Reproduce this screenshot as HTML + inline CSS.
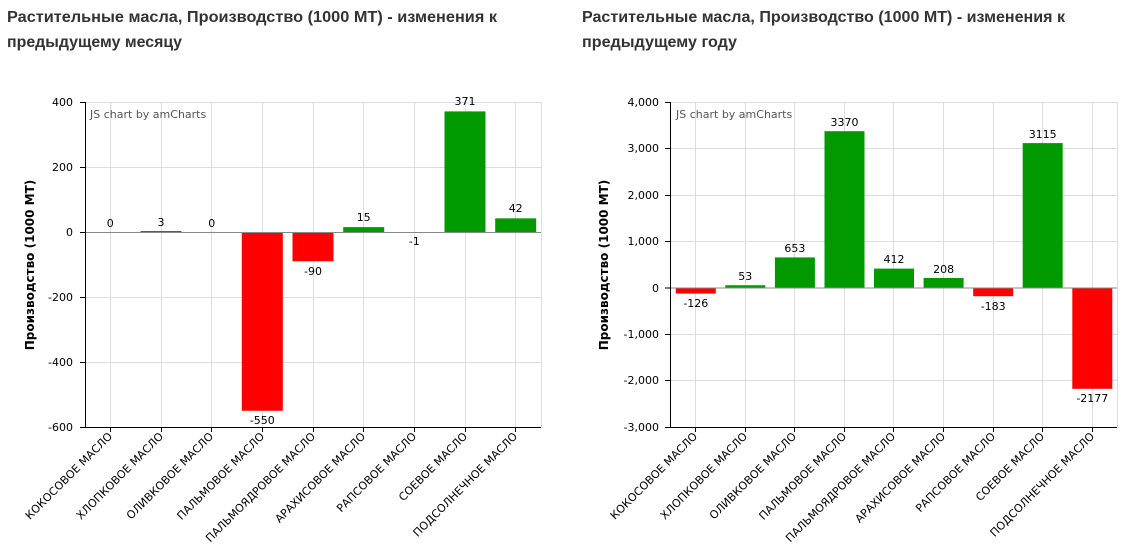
<!DOCTYPE html>
<html><head><meta charset="utf-8"><style>
body{margin:0;background:#fff;}
svg{display:block;font-family:"DejaVu Sans",sans-serif;}
</style></head><body>
<svg width="1129" height="555" viewBox="0 0 1129 555">
<g font-weight="bold" font-size="16" fill="#333" font-family="Liberation Sans, sans-serif">
<text x="7" y="22" textLength="490" lengthAdjust="spacingAndGlyphs">Растительные масла, Производство (1000 MT) - изменения к</text>
<text x="7" y="47" textLength="175" lengthAdjust="spacingAndGlyphs">предыдущему месяцу</text>
<text x="582" y="22" textLength="483" lengthAdjust="spacingAndGlyphs">Растительные масла, Производство (1000 MT) - изменения к</text>
<text x="582" y="47" textLength="155" lengthAdjust="spacingAndGlyphs">предыдущему году</text>
</g>

<!-- LEFT CHART -->
<g stroke="#ddd" stroke-width="1">
<line x1="85" y1="102.5" x2="541" y2="102.5"/><line x1="85" y1="167.5" x2="541" y2="167.5"/>
<line x1="85" y1="297.5" x2="541" y2="297.5"/><line x1="85" y1="362.5" x2="541" y2="362.5"/>
<line x1="110.5" y1="102" x2="110.5" y2="427"/><line x1="161.5" y1="102" x2="161.5" y2="427"/>
<line x1="211.5" y1="102" x2="211.5" y2="427"/><line x1="262.5" y1="102" x2="262.5" y2="427"/>
<line x1="313.5" y1="102" x2="313.5" y2="427"/><line x1="363.5" y1="102" x2="363.5" y2="427"/>
<line x1="414.5" y1="102" x2="414.5" y2="427"/><line x1="465.5" y1="102" x2="465.5" y2="427"/>
<line x1="515.5" y1="102" x2="515.5" y2="427"/><line x1="541.5" y1="102" x2="541.5" y2="427"/>
</g>
<g fill="#009900">
<rect x="140.5" y="231" width="41" height="1"/>
<rect x="343.2" y="227.1" width="41" height="4.9"/>
<rect x="444.5" y="111.4" width="41" height="120.6"/>
<rect x="495.2" y="218.35" width="41" height="13.65"/>
</g>
<g fill="#ff0000">
<rect x="241.8" y="232" width="41" height="178.75"/>
<rect x="292.5" y="232" width="41" height="29.25"/>
<rect x="393.8" y="232" width="41" height="0.5"/>
</g>
<line x1="85" y1="232.5" x2="541" y2="232.5" stroke="#888"/>
<line x1="85.5" y1="102" x2="85.5" y2="427" stroke="#000"/>
<line x1="80" y1="427.5" x2="541" y2="427.5" stroke="#000"/>
<g stroke="#000">
<line x1="80" y1="102.5" x2="85" y2="102.5"/><line x1="80" y1="167.5" x2="85" y2="167.5"/>
<line x1="80" y1="232.5" x2="85" y2="232.5"/><line x1="80" y1="297.5" x2="85" y2="297.5"/>
<line x1="80" y1="362.5" x2="85" y2="362.5"/>
<line x1="110.5" y1="427" x2="110.5" y2="432"/><line x1="161.5" y1="427" x2="161.5" y2="432"/>
<line x1="211.5" y1="427" x2="211.5" y2="432"/><line x1="262.5" y1="427" x2="262.5" y2="432"/>
<line x1="313.5" y1="427" x2="313.5" y2="432"/><line x1="363.5" y1="427" x2="363.5" y2="432"/>
<line x1="414.5" y1="427" x2="414.5" y2="432"/><line x1="465.5" y1="427" x2="465.5" y2="432"/>
<line x1="515.5" y1="427" x2="515.5" y2="432"/>
</g>
<g font-size="11" fill="#000" text-anchor="end">
<text x="73" y="106">400</text><text x="73" y="171">200</text><text x="73" y="236">0</text>
<text x="73" y="301">-200</text><text x="73" y="366">-400</text><text x="73" y="431">-600</text>
</g>
<text x="90" y="118" font-size="11" fill="#555">JS chart by amCharts</text>
<g font-size="11" fill="#000" text-anchor="middle">
<text x="110.3" y="227">0</text><text x="161" y="226">3</text><text x="211.7" y="227">0</text>
<text x="262.3" y="424">-550</text><text x="313" y="275">-90</text><text x="363.7" y="221">15</text>
<text x="414.3" y="245">-1</text><text x="465" y="105">371</text><text x="515.7" y="212">42</text>
</g>
<text transform="translate(34,265) rotate(-90)" font-size="12" font-weight="bold" text-anchor="middle">Производство (1000 MT)</text>
<g font-size="11" fill="#000" text-anchor="end">
<text transform="translate(113,437) rotate(-45)">КОКОСОВОЕ МАСЛО</text>
<text transform="translate(164,437) rotate(-45)">ХЛОПКОВОЕ МАСЛО</text>
<text transform="translate(214,437) rotate(-45)">ОЛИВКОВОЕ МАСЛО</text>
<text transform="translate(265,437) rotate(-45)">ПАЛЬМОВОЕ МАСЛО</text>
<text transform="translate(316,437) rotate(-45)">ПАЛЬМОЯДРОВОЕ МАСЛО</text>
<text transform="translate(366,437) rotate(-45)">АРАХИСОВОЕ МАСЛО</text>
<text transform="translate(417,437) rotate(-45)">РАПСОВОЕ МАСЛО</text>
<text transform="translate(468,437) rotate(-45)">СОЕВОЕ МАСЛО</text>
<text transform="translate(518,437) rotate(-45)">ПОДСОЛНЕЧНОЕ МАСЛО</text>
</g>

<!-- RIGHT CHART -->
<g stroke="#ddd" stroke-width="1">
<line x1="671" y1="102.5" x2="1117" y2="102.5"/><line x1="671" y1="148.5" x2="1117" y2="148.5"/>
<line x1="671" y1="195.5" x2="1117" y2="195.5"/><line x1="671" y1="241.5" x2="1117" y2="241.5"/>
<line x1="671" y1="334.5" x2="1117" y2="334.5"/><line x1="671" y1="380.5" x2="1117" y2="380.5"/>
<line x1="695.5" y1="102" x2="695.5" y2="427"/><line x1="745.5" y1="102" x2="745.5" y2="427"/>
<line x1="794.5" y1="102" x2="794.5" y2="427"/><line x1="844.5" y1="102" x2="844.5" y2="427"/>
<line x1="893.5" y1="102" x2="893.5" y2="427"/><line x1="943.5" y1="102" x2="943.5" y2="427"/>
<line x1="993.5" y1="102" x2="993.5" y2="427"/><line x1="1042.5" y1="102" x2="1042.5" y2="427"/>
<line x1="1092.5" y1="102" x2="1092.5" y2="427"/><line x1="1117.5" y1="102" x2="1117.5" y2="427"/>
</g>
<g fill="#009900">
<rect x="725.3" y="285.24" width="40" height="2.46"/>
<rect x="774.9" y="257.4" width="40" height="30.3"/>
<rect x="824.5" y="131.2" width="40" height="156.5"/>
<rect x="874" y="268.6" width="40" height="19.1"/>
<rect x="923.6" y="278" width="40" height="9.7"/>
<rect x="1022.7" y="143.1" width="40" height="144.6"/>
</g>
<g fill="#ff0000">
<rect x="675.8" y="287.7" width="40" height="5.85"/>
<rect x="973.2" y="287.7" width="40" height="8.5"/>
<rect x="1072.3" y="287.7" width="40" height="101.1"/>
</g>
<line x1="671" y1="288" x2="1117" y2="288" stroke="#888"/>
<line x1="670.5" y1="102" x2="670.5" y2="427" stroke="#000"/>
<line x1="665" y1="427.5" x2="1117" y2="427.5" stroke="#000"/>
<g stroke="#000">
<line x1="665" y1="102.5" x2="670" y2="102.5"/><line x1="665" y1="148.5" x2="670" y2="148.5"/>
<line x1="665" y1="195.5" x2="670" y2="195.5"/><line x1="665" y1="241.5" x2="670" y2="241.5"/>
<line x1="665" y1="288" x2="670" y2="288"/><line x1="665" y1="334.5" x2="670" y2="334.5"/>
<line x1="665" y1="380.5" x2="670" y2="380.5"/>
<line x1="695.5" y1="427" x2="695.5" y2="432"/><line x1="745.5" y1="427" x2="745.5" y2="432"/>
<line x1="794.5" y1="427" x2="794.5" y2="432"/><line x1="844.5" y1="427" x2="844.5" y2="432"/>
<line x1="893.5" y1="427" x2="893.5" y2="432"/><line x1="943.5" y1="427" x2="943.5" y2="432"/>
<line x1="993.5" y1="427" x2="993.5" y2="432"/><line x1="1042.5" y1="427" x2="1042.5" y2="432"/>
<line x1="1092.5" y1="427" x2="1092.5" y2="432"/>
</g>
<g font-size="11" fill="#000" text-anchor="end">
<text x="659" y="106">4,000</text><text x="659" y="152">3,000</text><text x="659" y="199">2,000</text>
<text x="659" y="245">1,000</text><text x="659" y="292">0</text><text x="659" y="338">-1,000</text>
<text x="659" y="384">-2,000</text><text x="659" y="431">-3,000</text>
</g>
<text x="676" y="118" font-size="11" fill="#555">JS chart by amCharts</text>
<g font-size="11" fill="#000" text-anchor="middle">
<text x="695.8" y="307">-126</text><text x="745.3" y="280">53</text><text x="794.9" y="252">653</text>
<text x="844.5" y="126">3370</text><text x="894" y="263">412</text><text x="943.6" y="273">208</text>
<text x="993.2" y="310">-183</text><text x="1042.7" y="138">3115</text><text x="1092.3" y="402">-2177</text>
</g>
<text transform="translate(608,265) rotate(-90)" font-size="12" font-weight="bold" text-anchor="middle">Производство (1000 MT)</text>
<g font-size="11" fill="#000" text-anchor="end">
<text transform="translate(698,437) rotate(-45)">КОКОСОВОЕ МАСЛО</text>
<text transform="translate(748,437) rotate(-45)">ХЛОПКОВОЕ МАСЛО</text>
<text transform="translate(797,437) rotate(-45)">ОЛИВКОВОЕ МАСЛО</text>
<text transform="translate(847,437) rotate(-45)">ПАЛЬМОВОЕ МАСЛО</text>
<text transform="translate(896,437) rotate(-45)">ПАЛЬМОЯДРОВОЕ МАСЛО</text>
<text transform="translate(946,437) rotate(-45)">АРАХИСОВОЕ МАСЛО</text>
<text transform="translate(996,437) rotate(-45)">РАПСОВОЕ МАСЛО</text>
<text transform="translate(1045,437) rotate(-45)">СОЕВОЕ МАСЛО</text>
<text transform="translate(1095,437) rotate(-45)">ПОДСОЛНЕЧНОЕ МАСЛО</text>
</g>
</svg>
</body></html>
